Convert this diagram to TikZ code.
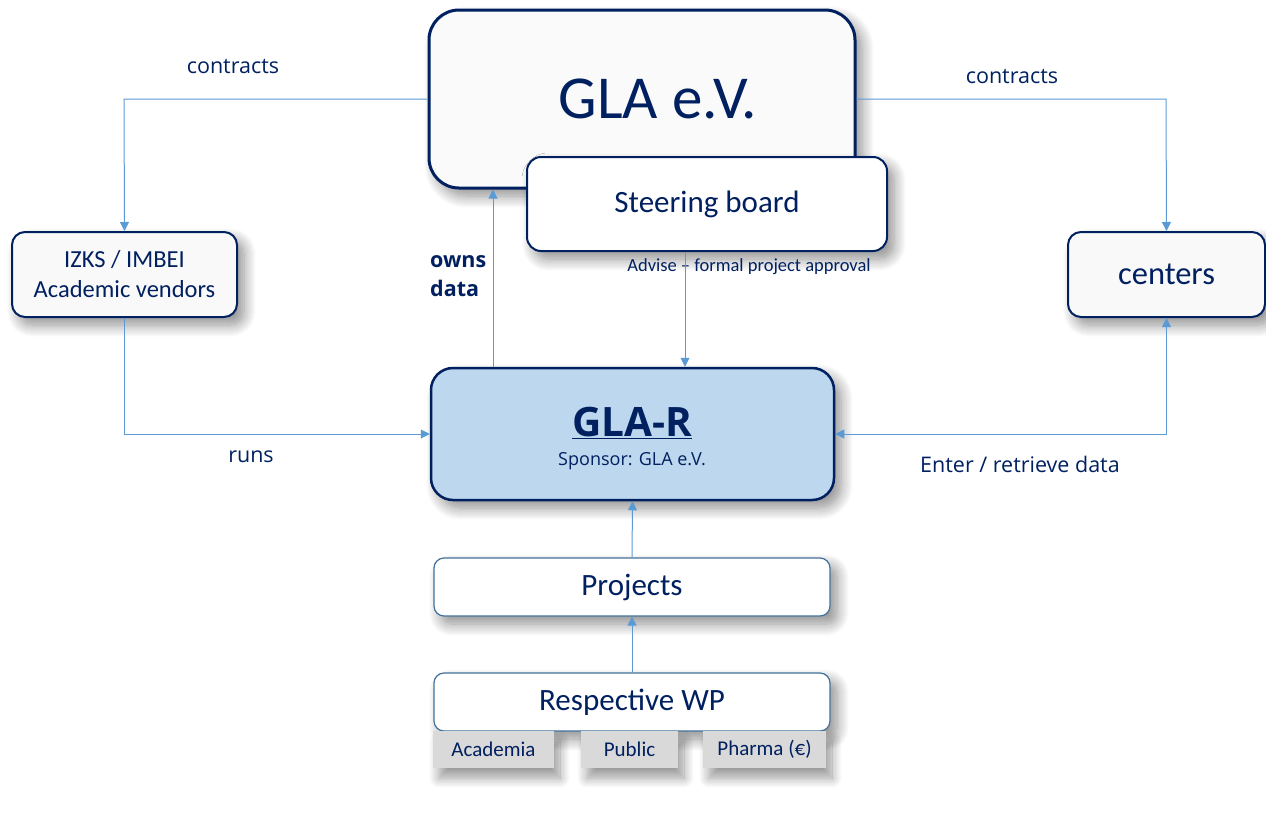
\documentclass[tikz,border=0pt]{standalone}
\usepackage{fontspec}
\setmainfont{Carlito}
\newfontfamily\labelfont{Open Sans}
\usetikzlibrary{arrows.meta,shadows.blur}
\definecolor{navy}{HTML}{002060}
\definecolor{linkblue}{HTML}{5B9BD5}
\definecolor{regfill}{HTML}{BDD7EE}
\definecolor{softblue}{HTML}{41719C}
\definecolor{tabgrey}{HTML}{D9D9D9}
\tikzset{
  soft/.style={blur shadow={shadow xshift=7pt,shadow yshift=-8pt,shadow blur steps=12,shadow blur radius=12pt,shadow opacity=45}},
  mainbox/.style={draw=navy,line width=3pt,rounded corners=30pt,fill=gray!4,soft,text=navy,inner sep=0pt},
  darkbox/.style={draw=navy,line width=2pt,rounded corners=14pt,fill=white,soft,text=navy,inner sep=0pt,align=center},
  sidebox/.style={draw=navy,line width=2pt,rounded corners=13pt,fill=gray!5,soft,text=navy,inner sep=0pt,align=center},
  lightbox/.style={draw=softblue,line width=1.2pt,rounded corners=10pt,fill=white,soft,text=navy,inner sep=0pt,minimum width=396pt,minimum height=58pt,font=\fontsize{31}{33}\selectfont},
  tab/.style={fill=tabgrey,text=navy,inner sep=0pt,minimum height=37pt,font=\fontsize{21}{23}\selectfont,blur shadow={shadow xshift=6pt,shadow yshift=-10pt,shadow blur steps=12,shadow blur radius=10pt,shadow opacity=40}},
  link/.style={draw=linkblue,line width=1pt,-{Triangle[length=9pt,width=9pt]}},
  tag/.style={text=navy,font=\labelfont\fontsize{21.5}{24}\selectfont,inner sep=0pt},
}
\begin{document}
\begin{tikzpicture}[x=1pt,y=-1pt]
\useasboundingbox (0,0) rectangle (1266,814);

% top: the association and its steering board
\node[mainbox,minimum width=426pt,minimum height=178pt] (gla) at (642,99) {};
\node[text=navy,font=\fontsize{61}{64}\selectfont,inner sep=0pt] (glatext) at (658,99) {GLA e.V.};
\node[darkbox,minimum width=360pt,minimum height=94pt,font=\fontsize{31}{33}\selectfont] (steer) at (707,204) {Steering board};
\node[text=navy,font=\fontsize{18.5}{20}\selectfont,inner sep=0pt] (advise) at (749,267) {Advise -- formal project approval};

% side partners
\node[sidebox,minimum width=225pt,minimum height=85pt,font=\fontsize{24.5}{30}\selectfont] (izks) at (124.5,274.5) {IZKS / IMBEI\\Academic vendors};
\node[sidebox,minimum width=197pt,minimum height=85pt,font=\fontsize{32.5}{34}\selectfont] (centers) at (1166.5,274.5) {centers};

% registry
\node[draw=navy,line width=2.5pt,rounded corners=22pt,fill=regfill,soft,inner sep=0pt,minimum width=403pt,minimum height=132pt] (glar) at (632.5,434) {};
\node[text=navy,font=\labelfont\bfseries\fontsize{40.5}{43}\selectfont,inner sep=0pt] (glartitle) at (632,423) {\underline{GLA-R}};
\node[text=navy,font=\labelfont\fontsize{18}{20}\selectfont,inner sep=0pt] (sponsor) at (632,461) {Sponsor: GLA e.V.};

% projects and work packages
\node[lightbox] (proj) at (632,587) {Projects};
\node[lightbox] (wp) at (632,702) {Respective WP};
\node[tab,minimum width=121pt] (acad) at (493.5,749.5) {Academia};
\node[tab,minimum width=97pt] (public) at (629.5,749.5) {Public};
\node[tab,minimum width=123pt] (pharma) at (764.5,749.5) {Pharma (€)};

% connectors
\coordinate (cl) at (124,99);
\coordinate (cr) at (1166,99);
\draw[link] (gla.west |- cl) -- (cl) -- (izks.north);
\draw[link] (gla.east |- cr) -- (cr) -- (centers.north);
\draw[link] (izks.south) |- (glar.west);
\draw[draw=linkblue,line width=1pt,{Triangle[length=9pt,width=9pt]}-{Triangle[length=9pt,width=9pt]}] (glar.east) -| (centers.south);
\draw[link] (glar.north -| 493,0) -- (gla.south -| 493,0);
\draw[link] (steer.south -| 685,0) -- (glar.north -| 685,0);
\draw[link] (proj.north) -- (glar.south);
\draw[link] (wp.north) -- (proj.south);

% connector labels
\node[tag] (c1) at (233,67) {contracts};
\node[tag] (c2) at (1012,77) {contracts};
\node[tag] (runs) at (251,457) {runs};
\node[tag] (enter) at (1020,464) {Enter / retrieve data};
\node[tag,font=\labelfont\bfseries\fontsize{21.5}{29}\selectfont,align=left,anchor=west] (owns) at (430,276) {owns\\data};
\end{tikzpicture}
\end{document}
